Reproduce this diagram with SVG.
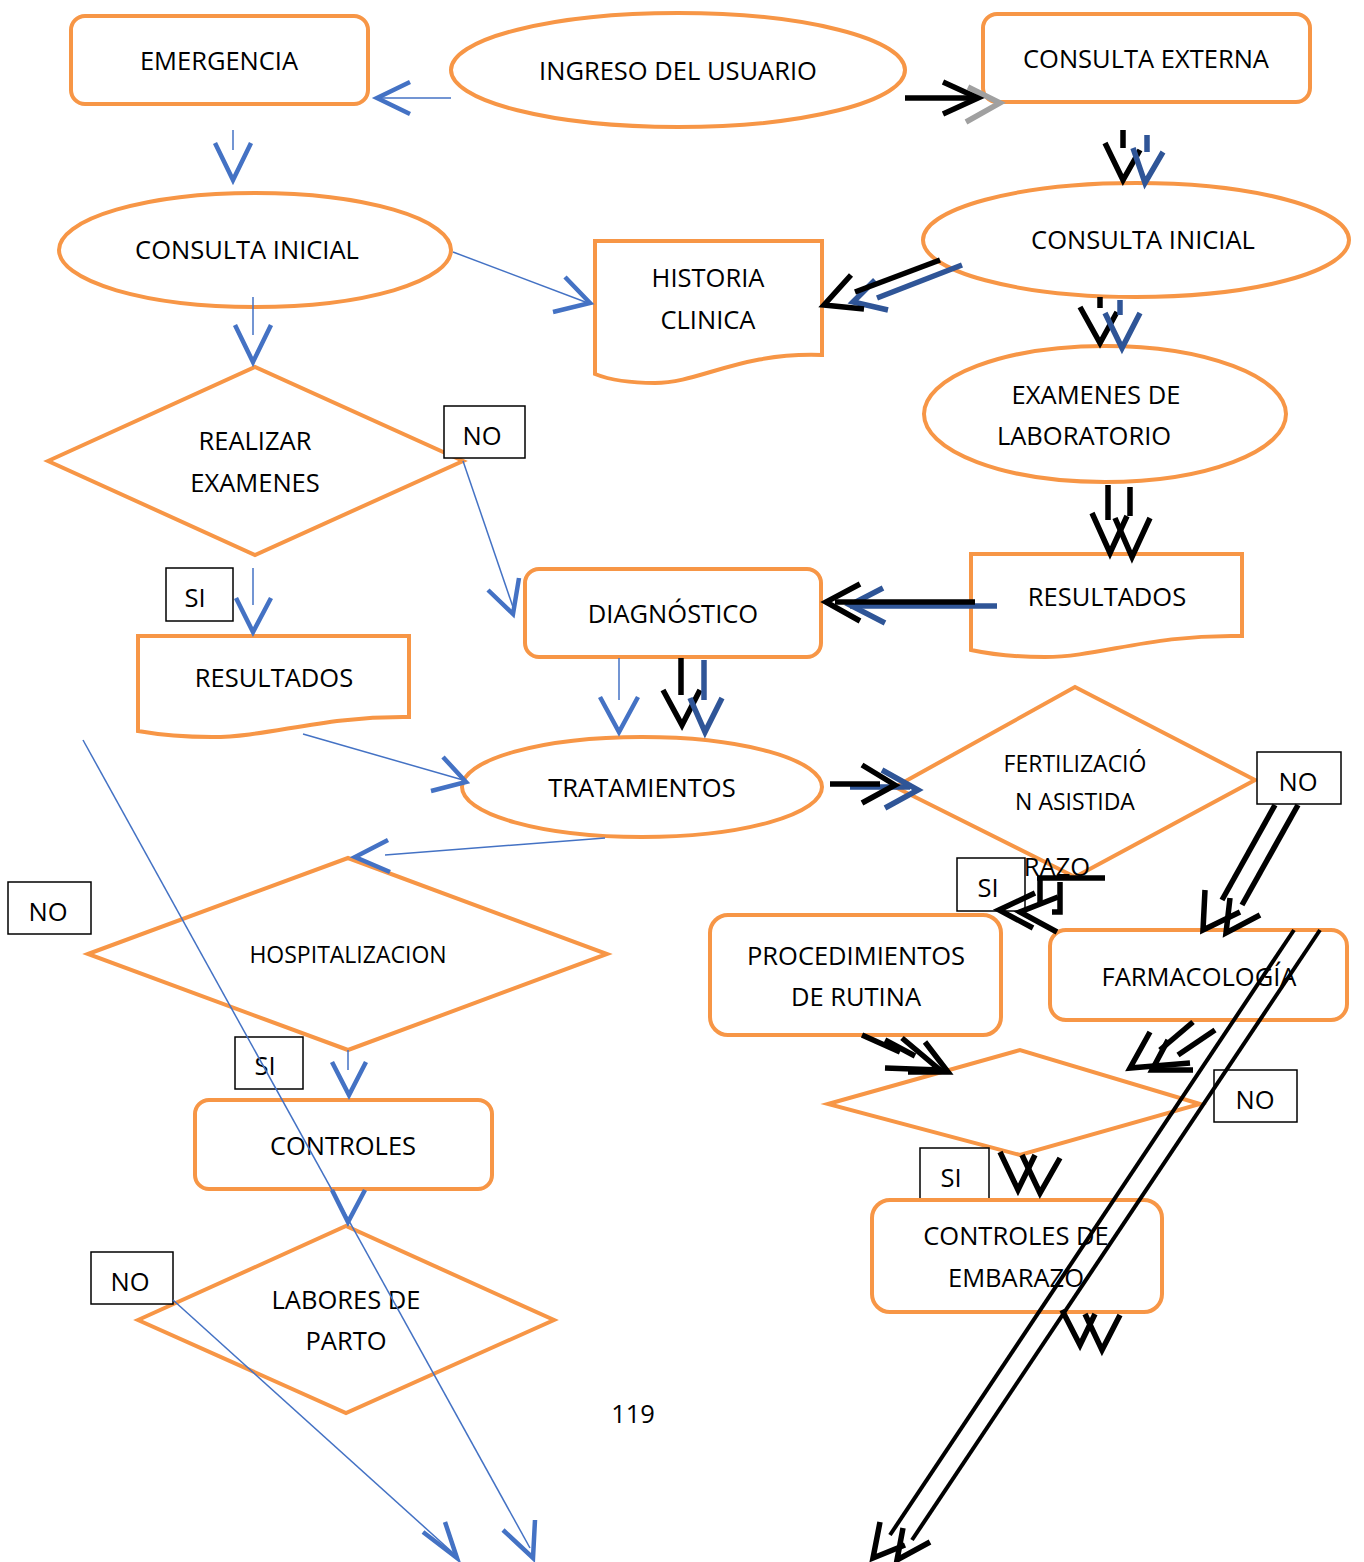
<svg xmlns="http://www.w3.org/2000/svg" width="1364" height="1562" viewBox="0 0 1364 1562">
<style>
.n{fill:#fff;stroke:#F79646;stroke-width:4}
.t{font-family:"Open Sans","Liberation Sans",sans-serif;font-size:25.5px;fill:#000;text-anchor:middle}
.s{font-size:23px}
.b{fill:#fff;stroke:#000;stroke-width:1.5}
.bl{fill:none;stroke:#4472C4;stroke-width:1.5}
.bh{fill:none;stroke:#4472C4;stroke-width:4.5}
.dh{fill:none;stroke:#2F5597;stroke-width:5.5}
.k{fill:none;stroke:#000;stroke-width:5.5}
.g{fill:none;stroke:#A0A0A0;stroke-width:5.5}
</style>
<rect width="1364" height="1562" fill="#fff"/>
<g id="emergencia"><rect class="n" x="71" y="16" width="297" height="88" rx="14"/><text class="t" x="219" y="70">EMERGENCIA</text></g>
<g id="ingreso"><ellipse class="n" cx="678" cy="70" rx="227" ry="57"/><text class="t" x="678" y="80">INGRESO DEL USUARIO</text></g>
<g id="consulta-externa"><rect class="n" x="983" y="14" width="327" height="88" rx="14"/><text class="t" x="1146" y="68">CONSULTA EXTERNA</text></g>
<g id="consulta-inicial-1"><ellipse class="n" cx="255" cy="250" rx="196" ry="57"/><text class="t" x="247" y="259">CONSULTA INICIAL</text></g>
<g id="historia"><path class="n" d="M595,241 H822 V355 C740,352 700,383 655,383 C625,383 605,378 595,374 Z"/><text class="t" x="708" y="287">HISTORIA</text><text class="t" x="708" y="329">CLINICA</text></g>
<g id="consulta-inicial-2"><ellipse class="n" cx="1136" cy="240" rx="213" ry="57"/><text class="t" x="1143" y="249">CONSULTA INICIAL</text></g>
<g id="examenes-lab"><ellipse class="n" cx="1105" cy="414" rx="181" ry="68"/><text class="t" x="1096" y="404">EXAMENES DE</text><text class="t" x="1084" y="445">LABORATORIO</text></g>
<g id="realizar"><polygon class="n" points="48,461 255,367 463,461 255,555"/><text class="t" x="255" y="450">REALIZAR</text><text class="t" x="255" y="492">EXAMENES</text></g>
<g id="no1"><rect class="b" x="444" y="406" width="81" height="52"/><text class="t" x="482" y="445">NO</text></g>
<g id="resultados-2"><path class="n" d="M971,554 H1242 V636 C1150,634 1100,657 1045,657 C1010,657 985,653 971,650 Z"/><text class="t" x="1107" y="606">RESULTADOS</text></g>
<g id="diagnostico"><rect class="n" x="525" y="569" width="296" height="88" rx="14"/><text class="t" x="673" y="623">DIAGNÓSTICO</text></g>
<g id="si1"><rect class="b" x="166" y="568" width="67" height="53"/><text class="t" x="195" y="607">SI</text></g>
<g id="resultados-1"><path class="n" d="M138,636 H409 V717 C320,716 270,737 212,737 C180,737 155,734 138,731 Z"/><text class="t" x="274" y="687">RESULTADOS</text></g>
<g id="tratamientos"><ellipse class="n" cx="642" cy="787" rx="180" ry="50"/><text class="t" x="642" y="797">TRATAMIENTOS</text></g>
<g id="fertilizacion"><polygon class="n" points="895,787 1075,687 1255,780 1075,877"/><text class="t s" x="1075" y="772">FERTILIZACIÓ</text><text class="t s" x="1075" y="810">N ASISTIDA</text><text class="t" x="1057" y="876">RAZO</text></g>
<g id="no2"><rect class="b" x="1257" y="752" width="84" height="52"/><text class="t" x="1298" y="791">NO</text></g>
<g id="hospitalizacion"><polygon class="n" points="88,954 348,858 607,954 348,1050"/><text class="t s" x="348" y="963">HOSPITALIZACION</text></g>
<g id="no3"><rect class="b" x="8" y="882" width="83" height="52"/><text class="t" x="48" y="921">NO</text></g>
<g id="si2"><rect class="b" x="957" y="858" width="68" height="53"/><text class="t" x="988" y="897">SI</text></g>
<g id="procedimientos"><rect class="n" x="710" y="915" width="291" height="120" rx="18"/><text class="t" x="856" y="965">PROCEDIMIENTOS</text><text class="t" x="856" y="1006">DE RUTINA</text></g>
<g id="farmacologia"><rect class="n" x="1050" y="930" width="297" height="90" rx="16"/><text class="t" x="1199" y="986">FARMACOLOGÍA</text></g>
<g id="si3"><rect class="b" x="235" y="1037" width="68" height="52"/><text class="t" x="265" y="1075">SI</text></g>
<g id="controles"><rect class="n" x="195" y="1100" width="297" height="89" rx="14"/><text class="t" x="343" y="1155">CONTROLES</text></g>
<g id="decision"><polygon class="n" points="828,1104 1020,1050 1200,1104 1020,1155"/></g>
<g id="no4"><rect class="b" x="1214" y="1070" width="83" height="52"/><text class="t" x="1255" y="1109">NO</text></g>
<g id="si4"><rect class="b" x="920" y="1148" width="69" height="52"/><text class="t" x="951" y="1187">SI</text></g>
<g id="controles-embarazo"><rect class="n" x="872" y="1200" width="290" height="112" rx="18"/><text class="t" x="1016" y="1245">CONTROLES DE</text><text class="t" x="1016" y="1287">EMBARAZO</text></g>
<g id="labores"><polygon class="n" points="138,1320 346,1226 554,1320 346,1413"/><text class="t" x="346" y="1309">LABORES DE</text><text class="t" x="346" y="1350">PARTO</text></g>
<g id="no5"><rect class="b" x="91" y="1252" width="82" height="52"/><text class="t" x="130" y="1291">NO</text></g>
<text class="t" x="633" y="1423">119</text>
<g id="connectors">
<line class="bl" x1="451" y1="98" x2="380" y2="98"/><polyline class="bh" points="410,82 377,98 410,114"/>
<line class="bl" x1="233" y1="130" x2="233" y2="150"/><polyline class="bh" points="215,143 233,180 251,143"/>
<line class="bl" x1="453" y1="252" x2="588" y2="303"/><polyline class="bh" points="565,277 590,303 553,312"/>
<line class="bl" x1="253" y1="297" x2="253" y2="335"/><polyline class="bh" points="235,325 253,362 271,325"/>
<line class="bl" x1="463" y1="461" x2="514" y2="610"/><polyline class="bh" points="488,590 513,614 519,578"/>
<line class="bl" x1="253" y1="568" x2="253" y2="605"/><polyline class="bh" points="236,598 253,632 271,598"/>
<line class="bl" x1="303" y1="734" x2="463" y2="780"/><polyline class="bh" points="443,757 466,782 431,791"/>
<line class="bl" x1="619" y1="658" x2="619" y2="700"/><polyline class="bh" points="600,697 619,732 638,697"/>
<line class="bl" x1="605" y1="838" x2="385" y2="855"/><polyline class="bh" points="388,840 355,857 390,872"/>
<line class="bl" x1="348" y1="1050" x2="348" y2="1070"/><polyline class="bh" points="332,1062 349,1095 366,1062"/>
<polyline class="bh" points="332,1190 348,1222 365,1190"/>
<line class="bl" x1="83" y1="740" x2="530" y2="1548"/><polyline class="bh" points="503,1530 533,1558 535,1520"/>
<line class="bl" x1="173" y1="1300" x2="452" y2="1552"/><polyline class="bh" points="423,1532 457,1558 445,1522"/>
<line class="k" x1="905" y1="98" x2="972" y2="98"/><polyline class="g" points="968,87 1000,103 966,122"/><polyline class="k" points="943,82 978,98 943,114"/>
<line class="k" x1="1123" y1="130" x2="1123" y2="148"/><polyline class="k" points="1105,143 1123,180 1140,150"/>
<line class="dh" x1="1147" y1="135" x2="1147" y2="152"/><polyline class="dh" points="1133,148 1145,183 1163,152"/>
<line class="dh" x1="962" y1="265" x2="877" y2="298"/><polyline class="dh" points="875,280 853,302 888,310"/>
<line class="k" x1="940" y1="260" x2="855" y2="292"/><polyline class="k" points="851,275 824,305 864,309"/>
<line class="k" x1="1100" y1="297" x2="1100" y2="308"/><polyline class="k" points="1080,307 1100,343 1117,312"/>
<line class="dh" x1="1120" y1="300" x2="1120" y2="315"/><polyline class="dh" points="1105,313 1122,348 1140,313"/>
<line class="k" x1="1108" y1="485" x2="1108" y2="520"/><line class="k" x1="1130" y1="487" x2="1130" y2="516"/>
<polyline class="k" points="1092,513 1110,553 1127,516"/><polyline class="k" points="1115,518 1132,557 1150,518"/>
<line class="dh" x1="997" y1="606" x2="850" y2="606"/><polyline class="dh" points="883,588 850,605 885,623"/>
<line class="k" x1="975" y1="602" x2="835" y2="602"/><polyline class="k" points="860,584 826,602 860,621"/>
<line class="k" x1="681" y1="658" x2="681" y2="695"/><polyline class="k" points="663,690 682,725 700,690"/>
<line class="dh" x1="704" y1="660" x2="704" y2="700"/><polyline class="dh" points="690,698 705,732 722,698"/>
<line class="dh" x1="850" y1="787" x2="910" y2="787"/><polyline class="dh" points="882,770 918,790 885,808"/>
<line class="k" x1="830" y1="784" x2="880" y2="784"/><polyline class="k" points="862,765 895,785 862,803"/>
<polyline class="k" points="1037,878 1105,878"/><line class="k" x1="1040" y1="878" x2="1040" y2="905"/><polyline class="k" points="1052,912 1060,912 1060,882"/>
<polyline class="k" points="1035,893 999,910 1033,928"/><polyline class="k" points="1058,897 1020,912 1057,932"/>
<line class="k" x1="1275" y1="805" x2="1222" y2="900"/><line class="k" x1="1298" y1="805" x2="1242" y2="905"/>
<polyline class="k" points="1205,890 1203,930 1240,912"/><polyline class="k" points="1230,898 1226,933 1260,915"/>
<line class="k" x1="1294" y1="930" x2="890" y2="1535" style="stroke-width:4"/><line class="k" x1="1320" y1="930" x2="912" y2="1540" style="stroke-width:4"/>
<polyline class="k" points="880,1522 873,1558 905,1545"/><polyline class="k" points="903,1528 897,1560 930,1542"/>
<line class="k" x1="862" y1="1035" x2="900" y2="1052"/><line class="k" x1="885" y1="1040" x2="915" y2="1056"/>
<polyline class="k" points="902,1038 940,1070 885,1068"/><polyline class="k" points="925,1042 948,1072 908,1072"/>
<line class="k" x1="1193" y1="1022" x2="1160" y2="1050"/><line class="k" x1="1215" y1="1030" x2="1178" y2="1055"/>
<polyline class="k" points="1150,1032 1130,1068 1190,1063"/><polyline class="k" points="1168,1040 1152,1070 1193,1070"/>
<polyline class="k" points="1000,1152 1018,1190 1035,1155"/><polyline class="k" points="1022,1155 1040,1193 1060,1158"/>
<polyline class="k" points="1062,1310 1080,1345 1095,1314"/><polyline class="k" points="1085,1314 1102,1350 1120,1315"/>
</g>
</svg>
